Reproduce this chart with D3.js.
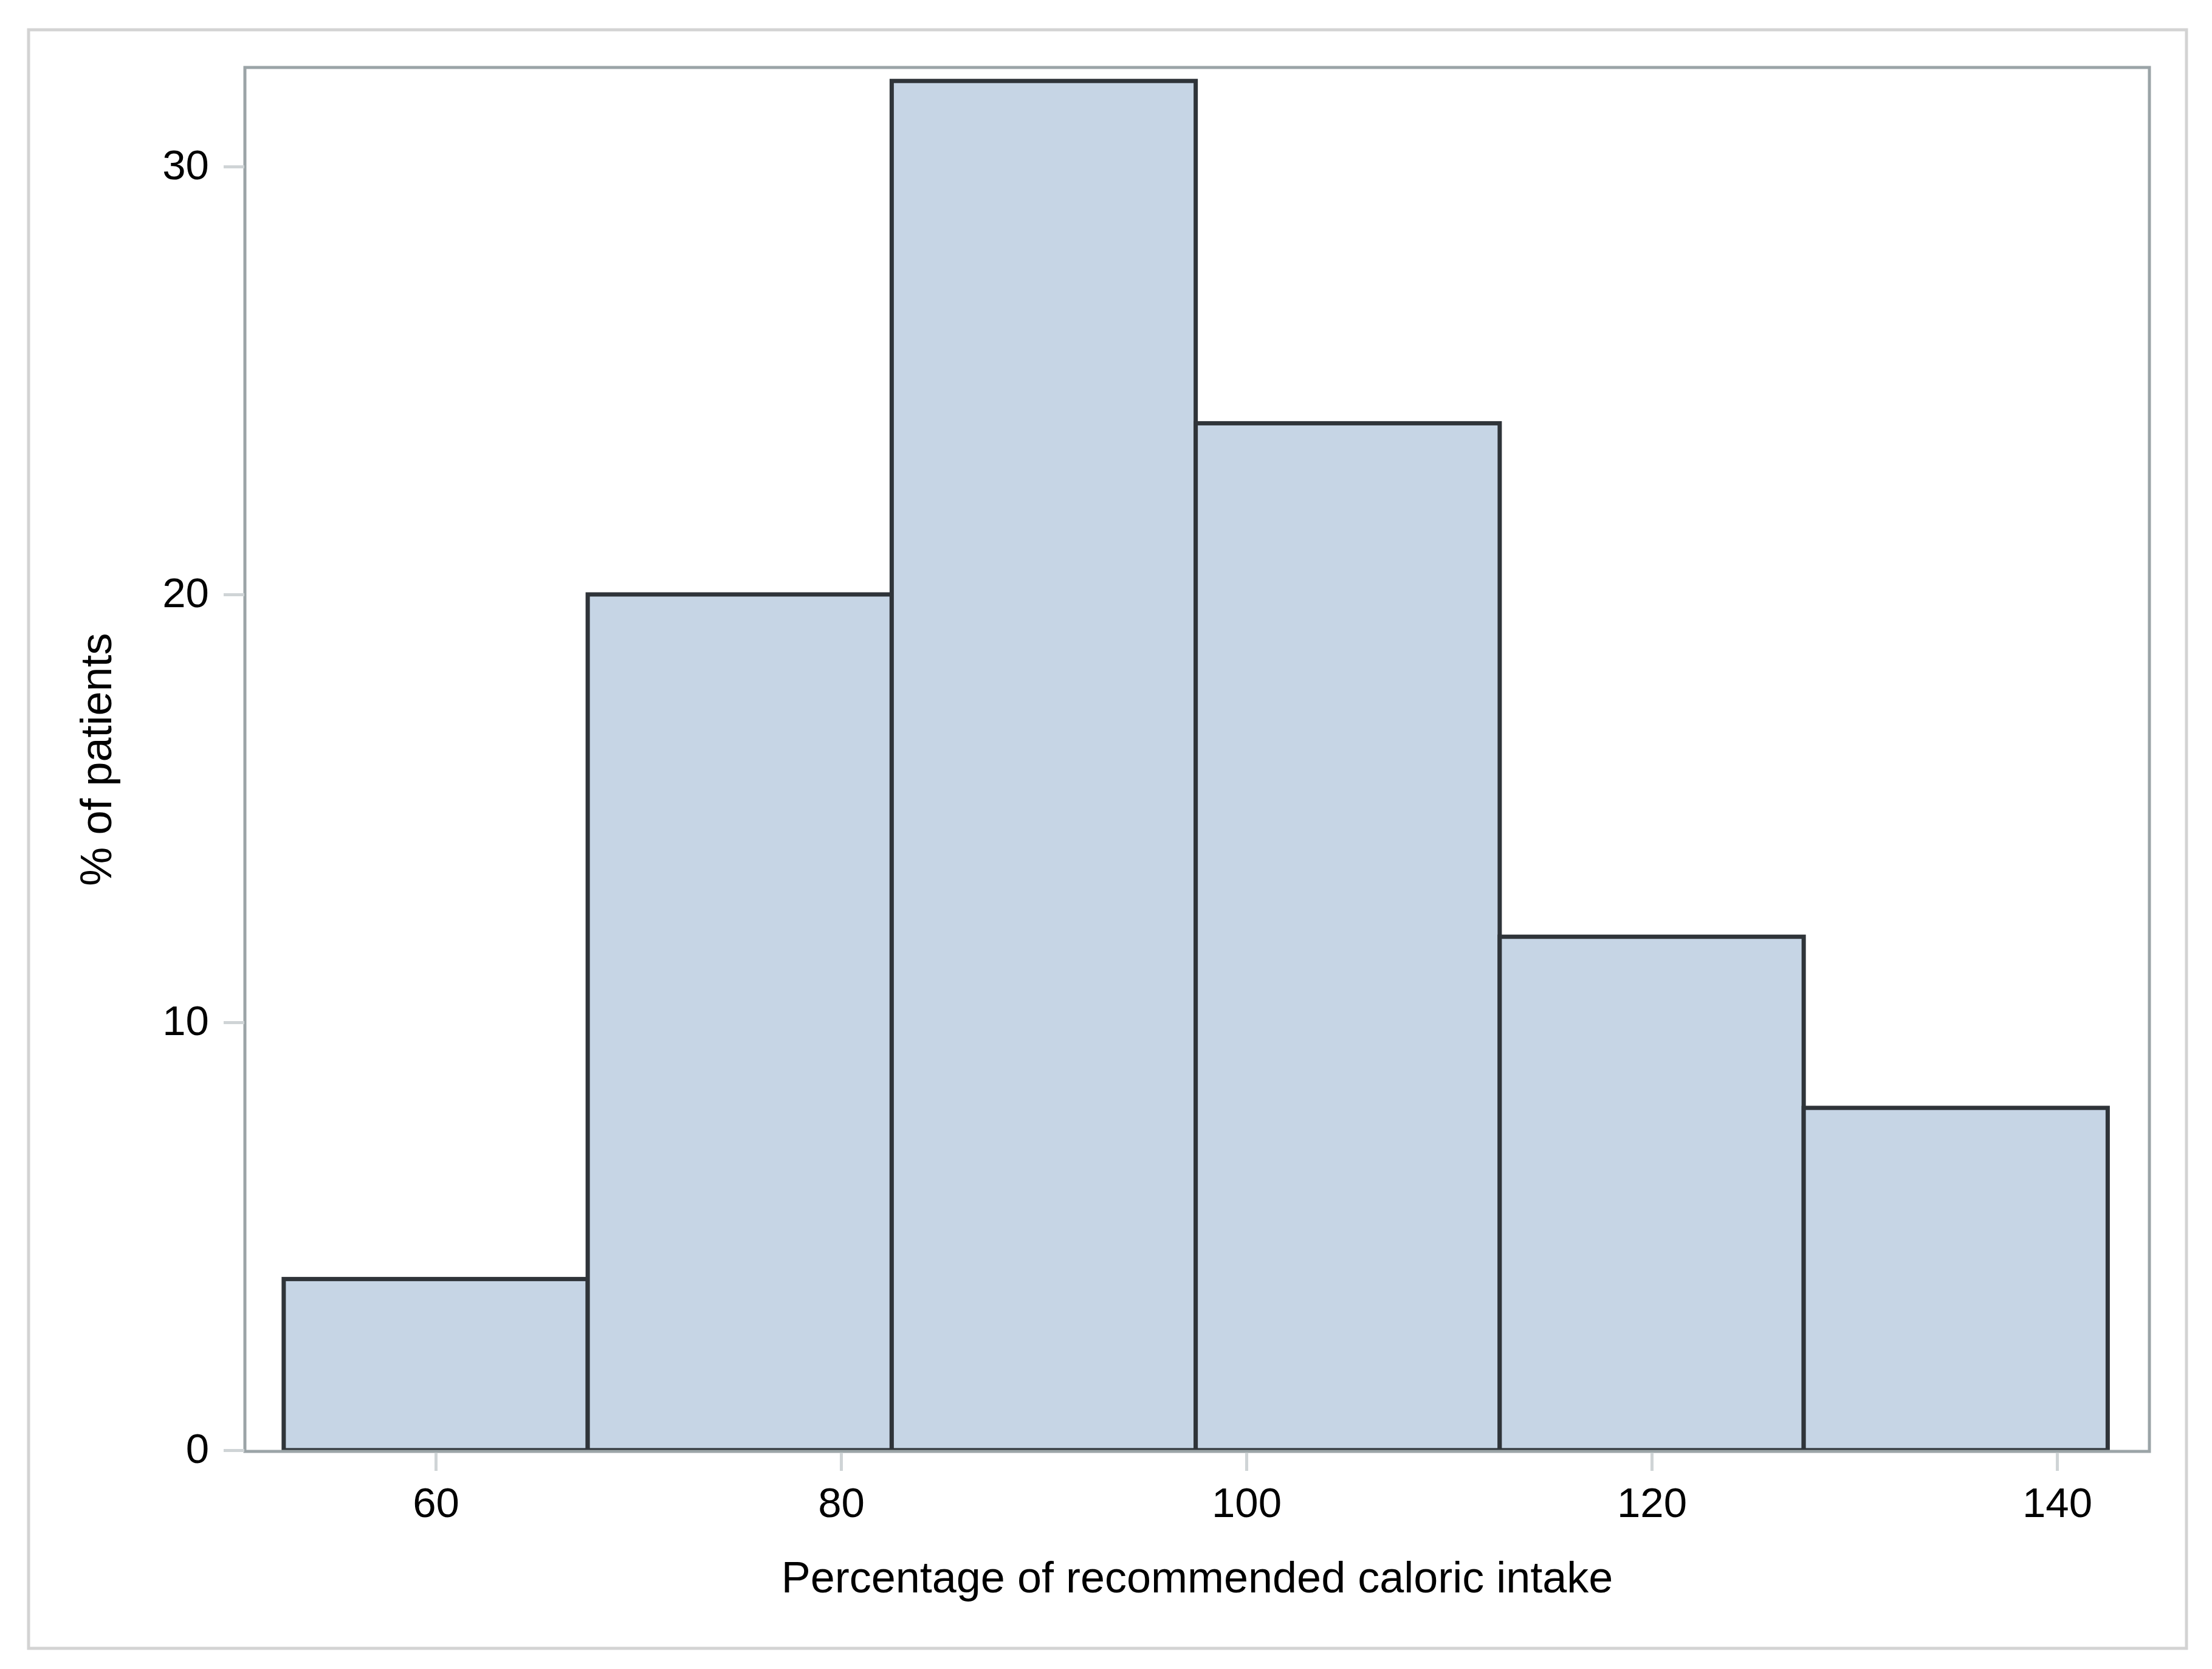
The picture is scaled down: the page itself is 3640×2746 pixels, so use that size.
<!DOCTYPE html>
<html>
<head>
<meta charset="utf-8">
<script src="https://cdn.jsdelivr.net/npm/d3@7"></script>
<style>
  html, body { margin: 0; padding: 0; background: #ffffff; }
  svg { display: block; }
  text { font-family: "Liberation Sans", Arial, sans-serif; fill: #000; }
</style>
</head>
<body>
<script>
// ---- data ----
const binStarts = [52.5, 67.5, 82.5, 97.5, 112.5, 127.5];
const binWidth = 15;
const percents = [4, 20, 32, 24, 12, 8];
const xTicks = [60, 80, 100, 120, 140];
const yTicks = [0, 10, 20, 30];
const xTitle = "Percentage of recommended caloric intake";
const yTitle = "% of patients";

// ---- layout ----
const W = 3640, H = 2746;
const frame = { left: 403, right: 3537, top: 111, bottom: 2388 };

const svg = d3.select("body").append("svg")
  .attr("width", W).attr("height", H);

svg.append("rect").attr("x", 0).attr("y", 0).attr("width", W).attr("height", H).attr("fill", "#fff");

// outer border
svg.append("rect")
  .attr("x", 47).attr("y", 49)
  .attr("width", 3598 - 47).attr("height", 2712 - 49)
  .attr("fill", "none").attr("stroke", "#d3d3d3").attr("stroke-width", 5);

const x = d3.scaleLinear().domain([60, 140]).range([717, 3385]);
const y = d3.scaleLinear().domain([0, 30]).range([2386, 274]);

// bars
svg.append("g").selectAll("rect")
  .data(binStarts.map((s, i) => ({ s, v: percents[i] })))
  .join("rect")
  .attr("x", d => x(d.s))
  .attr("y", d => y(d.v))
  .attr("width", d => x(d.s + binWidth) - x(d.s))
  .attr("height", d => y(0) - y(d.v))
  .attr("fill", "#c6d5e5")
  .attr("stroke", "#2f3439")
  .attr("stroke-width", 7);

// frame
svg.append("rect")
  .attr("x", frame.left).attr("y", frame.top)
  .attr("width", frame.right - frame.left).attr("height", frame.bottom - frame.top)
  .attr("fill", "none").attr("stroke", "#9ba4a7").attr("stroke-width", 5);

// x axis
const xAxis = d3.axisBottom(x).tickValues(xTicks).tickSize(30).tickPadding(50).tickSizeOuter(0);
const gx = svg.append("g").attr("transform", `translate(0,${frame.bottom + 2})`).call(xAxis);
gx.select(".domain").remove();
gx.selectAll(".tick line").attr("stroke", "#cfd4d6").attr("stroke-width", 5);
gx.selectAll(".tick text")
  .attr("font-size", 69).attr("font-family", "Liberation Sans, Arial, sans-serif")
  .attr("fill", "#000").attr("dy", null).attr("y", 0)
  .attr("transform", "translate(0,106)");

// y axis
const yAxis = d3.axisLeft(y).tickValues(yTicks).tickSize(34).tickPadding(24).tickSizeOuter(0);
const gy = svg.append("g").attr("transform", `translate(${frame.left - 1},0)`).call(yAxis);
gy.select(".domain").remove();
gy.selectAll(".tick line").attr("stroke", "#cfd4d6").attr("stroke-width", 5);
gy.selectAll(".tick text")
  .attr("font-size", 69).attr("font-family", "Liberation Sans, Arial, sans-serif")
  .attr("fill", "#000").attr("dy", "0.3em");

// titles
svg.append("text")
  .attr("x", (frame.left + frame.right) / 2).attr("y", 2620)
  .attr("text-anchor", "middle").attr("font-size", 72)
  .text(xTitle);

svg.append("text")
  .attr("transform", `translate(183,${(frame.top + frame.bottom) / 2}) rotate(-90)`)
  .attr("text-anchor", "middle").attr("font-size", 72)
  .text(yTitle);
</script>
</body>
</html>
